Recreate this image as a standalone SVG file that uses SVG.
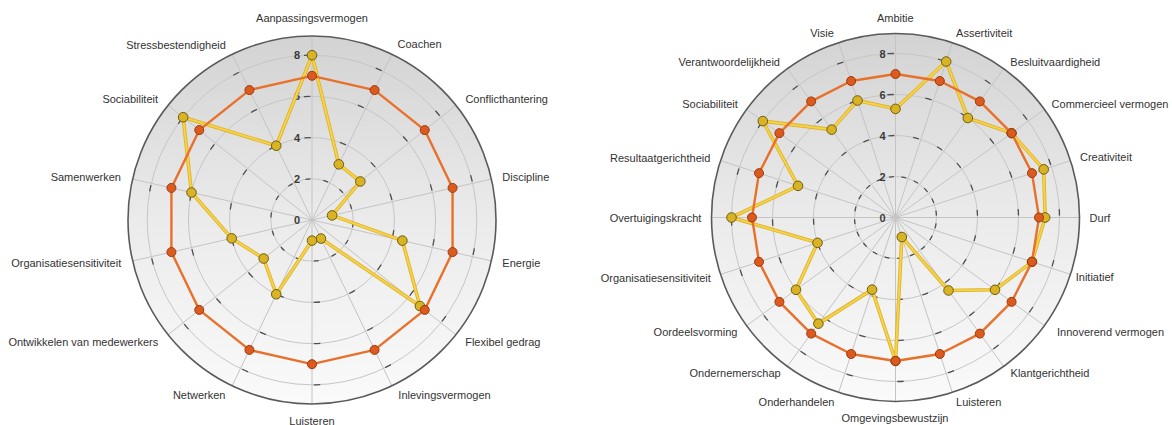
<svg xmlns="http://www.w3.org/2000/svg" width="1172" height="425" viewBox="0 0 1172 425">
<style>
text{font-family:"Liberation Sans",Arial,sans-serif;font-size:11px;fill:#333}
.lbl{text-anchor:middle}
.tick{font-weight:bold;text-anchor:end;fill:#3a3a3a}
.disc{fill:url(#bg)}
.ring{fill:none;stroke:#c6c6c6;stroke-width:1}
.spoke{stroke:#c4c4c4;stroke-width:1;fill:none}
.dash{fill:none;stroke:#505050;stroke-width:1.3}
.outer{fill:none;stroke:#5a5a5a;stroke-width:1.6}
.yl1{fill:none;stroke:#e0b42c;stroke-width:3.6;stroke-linejoin:round}
.yl2{fill:none;stroke:#f6d44a;stroke-width:1.8;stroke-linejoin:round}
.or{fill:none;stroke:#e8702a;stroke-width:2.4;stroke-linejoin:round}
.ym{fill:#d8b424;stroke:#6f5c12;stroke-width:1}
.om{fill:#dd5a1e;stroke:#9a3a10;stroke-width:1}
</style>
<defs>
<linearGradient id="bg" x1="0" y1="0" x2="0" y2="1">
<stop offset="0" stop-color="#d3d3d3"/>
<stop offset="0.5" stop-color="#ebebeb"/>
<stop offset="1" stop-color="#fafafa"/>
</linearGradient>
</defs>
<rect width="1172" height="425" fill="#ffffff"/>

<g id="chart-left">
<g id="left-grid">
<circle class="disc" cx="312" cy="220" r="184"/>
<circle class="ring" cx="312" cy="220" r="41.2"/>
<circle class="ring" cx="312" cy="220" r="82.4"/>
<circle class="ring" cx="312" cy="220" r="123.6"/>
<circle class="ring" cx="312" cy="220" r="164.8"/>
<path class="spoke" d="M312 36L312 404M391.83 54.22L232.17 385.78M455.86 105.28L168.14 334.72M491.39 179.06L132.61 260.94M491.39 260.94L132.61 179.06M455.86 334.72L168.14 105.28M391.83 385.78L232.17 54.22"/>
<circle class="dash" cx="312" cy="220" r="41.2" transform="rotate(-90 312 220)" stroke-dasharray="5 13.49" stroke-dashoffset="7"/>
<circle class="dash" cx="312" cy="220" r="82.4" transform="rotate(-90 312 220)" stroke-dasharray="6.5 30.48" stroke-dashoffset="8.5"/>
<circle class="dash" cx="312" cy="220" r="123.6" transform="rotate(-90 312 220)" stroke-dasharray="6.5 48.97" stroke-dashoffset="8.5"/>
<circle class="dash" cx="312" cy="220" r="164.8" transform="rotate(-90 312 220)" stroke-dasharray="6.5 67.46" stroke-dashoffset="8.5"/>
<circle class="outer" cx="312" cy="220" r="184"/>
<text class="tick" x="300" y="224">0</text>
<text class="tick" x="300" y="182.8">2</text>
<text class="tick" x="300" y="141.6">4</text>
<text class="tick" x="300" y="100.4">6</text>
<text class="tick" x="300" y="59.2">8</text>
</g>
<g id="left-series-yellow">
<polygon class="yl1" points="312,55.2 338.81,164.32 360.32,181.47 332.08,215.42 402.38,240.63 419.91,306.05 320.94,238.56 312,240.6 276.25,294.24 263.68,258.53 231.67,238.34 191.5,192.5 183.15,117.25 276.25,145.76"/>
<polygon class="yl2" points="312,55.2 338.81,164.32 360.32,181.47 332.08,215.42 402.38,240.63 419.91,306.05 320.94,238.56 312,240.6 276.25,294.24 263.68,258.53 231.67,238.34 191.5,192.5 183.15,117.25 276.25,145.76"/>
<circle class="ym" cx="312" cy="55.2" r="4.8"/>
<circle class="ym" cx="338.81" cy="164.32" r="4.8"/>
<circle class="ym" cx="360.32" cy="181.47" r="4.8"/>
<circle class="ym" cx="332.08" cy="215.42" r="4.8"/>
<circle class="ym" cx="402.38" cy="240.63" r="4.8"/>
<circle class="ym" cx="419.91" cy="306.05" r="4.8"/>
<circle class="ym" cx="320.94" cy="238.56" r="4.8"/>
<circle class="ym" cx="312" cy="240.6" r="4.8"/>
<circle class="ym" cx="276.25" cy="294.24" r="4.8"/>
<circle class="ym" cx="263.68" cy="258.53" r="4.8"/>
<circle class="ym" cx="231.67" cy="238.34" r="4.8"/>
<circle class="ym" cx="191.5" cy="192.5" r="4.8"/>
<circle class="ym" cx="183.15" cy="117.25" r="4.8"/>
<circle class="ym" cx="276.25" cy="145.76" r="4.8"/>
</g>
<g id="left-series-orange">
<polygon class="or" points="312,75.8 374.57,90.08 424.74,130.09 452.58,187.91 452.58,252.09 424.74,309.91 374.57,349.92 312,364.2 249.43,349.92 199.26,309.91 171.42,252.09 171.42,187.91 199.26,130.09 249.43,90.08"/>
<circle class="om" cx="312" cy="75.8" r="4.5"/>
<circle class="om" cx="374.57" cy="90.08" r="4.5"/>
<circle class="om" cx="424.74" cy="130.09" r="4.5"/>
<circle class="om" cx="452.58" cy="187.91" r="4.5"/>
<circle class="om" cx="452.58" cy="252.09" r="4.5"/>
<circle class="om" cx="424.74" cy="309.91" r="4.5"/>
<circle class="om" cx="374.57" cy="349.92" r="4.5"/>
<circle class="om" cx="312" cy="364.2" r="4.5"/>
<circle class="om" cx="249.43" cy="349.92" r="4.5"/>
<circle class="om" cx="199.26" cy="309.91" r="4.5"/>
<circle class="om" cx="171.42" cy="252.09" r="4.5"/>
<circle class="om" cx="171.42" cy="187.91" r="4.5"/>
<circle class="om" cx="199.26" cy="130.09" r="4.5"/>
<circle class="om" cx="249.43" cy="90.08" r="4.5"/>
</g>
<g id="left-labels">
<text class="lbl" x="312" y="22.3">Aanpassingsvermogen</text>
<text class="lbl" x="419.5" y="48">Coachen</text>
<text class="lbl" x="506.7" y="103">Conflicthantering</text>
<text class="lbl" x="525.8" y="180.7">Discipline</text>
<text class="lbl" x="521.3" y="267.3">Energie</text>
<text class="lbl" x="502.8" y="345.7">Flexibel gedrag</text>
<text class="lbl" x="444.5" y="399">Inlevingsvermogen</text>
<text class="lbl" x="312" y="424.5">Luisteren</text>
<text class="lbl" x="199.2" y="399">Netwerken</text>
<text class="lbl" x="83.3" y="345.7">Ontwikkelen van medewerkers</text>
<text class="lbl" x="66.2" y="267.3">Organisatiesensitiviteit</text>
<text class="lbl" x="85.8" y="180.7">Samenwerken</text>
<text class="lbl" x="130.2" y="103">Sociabiliteit</text>
<text class="lbl" x="176" y="48.5">Stressbestendigheid</text>
</g>
</g>

<g id="chart-right">
<g id="right-grid">
<circle class="disc" cx="895.5" cy="217.5" r="184"/>
<circle class="ring" cx="895.5" cy="217.5" r="41"/>
<circle class="ring" cx="895.5" cy="217.5" r="82"/>
<circle class="ring" cx="895.5" cy="217.5" r="123"/>
<circle class="ring" cx="895.5" cy="217.5" r="164"/>
<path class="spoke" d="M895.5 33.5L895.5 401.5M952.36 42.51L838.64 392.49M1003.65 68.64L787.35 366.36M1044.36 109.35L746.64 325.65M1070.49 160.64L720.51 274.36M1079.5 217.5L711.5 217.5M1070.49 274.36L720.51 160.64M1044.36 325.65L746.64 109.35M1003.65 366.36L787.35 68.64M952.36 392.49L838.64 42.51"/>
<circle class="dash" cx="895.5" cy="217.5" r="41" transform="rotate(-90 895.5 217.5)" stroke-dasharray="5 7.88" stroke-dashoffset="7"/>
<circle class="dash" cx="895.5" cy="217.5" r="82" transform="rotate(-90 895.5 217.5)" stroke-dasharray="6 19.76" stroke-dashoffset="8"/>
<circle class="dash" cx="895.5" cy="217.5" r="123" transform="rotate(-90 895.5 217.5)" stroke-dasharray="6.5 32.14" stroke-dashoffset="8.5"/>
<circle class="dash" cx="895.5" cy="217.5" r="164" transform="rotate(-90 895.5 217.5)" stroke-dasharray="6.5 45.02" stroke-dashoffset="8.5"/>
<circle class="outer" cx="895.5" cy="217.5" r="184"/>
<text class="tick" x="885.5" y="221.5">0</text>
<text class="tick" x="885.5" y="180.5">2</text>
<text class="tick" x="885.5" y="139.5">4</text>
<text class="tick" x="885.5" y="98.5">6</text>
<text class="tick" x="885.5" y="57.5">8</text>
</g>
<g id="right-series-yellow">
<polygon class="yl1" points="895.5,108.85 946.18,61.53 967.8,117.99 1011.59,133.15 1043.68,169.35 1045.15,217.5 1031.98,261.84 995.01,289.8 948.52,290.47 901.83,237 895.5,361 872.06,289.64 818.38,323.64 795.99,289.8 817.51,242.84 731.5,217.5 798.02,185.83 762.82,121.1 831.64,129.6 857.49,100.52"/>
<polygon class="yl2" points="895.5,108.85 946.18,61.53 967.8,117.99 1011.59,133.15 1043.68,169.35 1045.15,217.5 1031.98,261.84 995.01,289.8 948.52,290.47 901.83,237 895.5,361 872.06,289.64 818.38,323.64 795.99,289.8 817.51,242.84 731.5,217.5 798.02,185.83 762.82,121.1 831.64,129.6 857.49,100.52"/>
<circle class="ym" cx="895.5" cy="108.85" r="4.8"/>
<circle class="ym" cx="946.18" cy="61.53" r="4.8"/>
<circle class="ym" cx="967.8" cy="117.99" r="4.8"/>
<circle class="ym" cx="1011.59" cy="133.15" r="4.8"/>
<circle class="ym" cx="1043.68" cy="169.35" r="4.8"/>
<circle class="ym" cx="1045.15" cy="217.5" r="4.8"/>
<circle class="ym" cx="1031.98" cy="261.84" r="4.8"/>
<circle class="ym" cx="995.01" cy="289.8" r="4.8"/>
<circle class="ym" cx="948.52" cy="290.47" r="4.8"/>
<circle class="ym" cx="901.83" cy="237" r="4.8"/>
<circle class="ym" cx="895.5" cy="361" r="4.8"/>
<circle class="ym" cx="872.06" cy="289.64" r="4.8"/>
<circle class="ym" cx="818.38" cy="323.64" r="4.8"/>
<circle class="ym" cx="795.99" cy="289.8" r="4.8"/>
<circle class="ym" cx="817.51" cy="242.84" r="4.8"/>
<circle class="ym" cx="731.5" cy="217.5" r="4.8"/>
<circle class="ym" cx="798.02" cy="185.83" r="4.8"/>
<circle class="ym" cx="762.82" cy="121.1" r="4.8"/>
<circle class="ym" cx="831.64" cy="129.6" r="4.8"/>
<circle class="ym" cx="857.49" cy="100.52" r="4.8"/>
</g>
<g id="right-series-orange">
<polygon class="or" points="895.5,74 939.84,81.02 979.85,101.41 1011.59,133.15 1031.98,173.16 1039,217.5 1031.98,261.84 1011.59,301.85 979.85,333.59 939.84,353.98 895.5,361 851.16,353.98 811.15,333.59 779.41,301.85 759.02,261.84 752,217.5 759.02,173.16 779.41,133.15 811.15,101.41 851.16,81.02"/>
<circle class="om" cx="895.5" cy="74" r="4.5"/>
<circle class="om" cx="939.84" cy="81.02" r="4.5"/>
<circle class="om" cx="979.85" cy="101.41" r="4.5"/>
<circle class="om" cx="1011.59" cy="133.15" r="4.5"/>
<circle class="om" cx="1031.98" cy="173.16" r="4.5"/>
<circle class="om" cx="1039" cy="217.5" r="4.5"/>
<circle class="om" cx="1031.98" cy="261.84" r="4.5"/>
<circle class="om" cx="1011.59" cy="301.85" r="4.5"/>
<circle class="om" cx="979.85" cy="333.59" r="4.5"/>
<circle class="om" cx="939.84" cy="353.98" r="4.5"/>
<circle class="om" cx="895.5" cy="361" r="4.5"/>
<circle class="om" cx="851.16" cy="353.98" r="4.5"/>
<circle class="om" cx="811.15" cy="333.59" r="4.5"/>
<circle class="om" cx="779.41" cy="301.85" r="4.5"/>
<circle class="om" cx="759.02" cy="261.84" r="4.5"/>
<circle class="om" cx="752" cy="217.5" r="4.5"/>
<circle class="om" cx="759.02" cy="173.16" r="4.5"/>
<circle class="om" cx="779.41" cy="133.15" r="4.5"/>
<circle class="om" cx="811.15" cy="101.41" r="4.5"/>
<circle class="om" cx="851.16" cy="81.02" r="4.5"/>
</g>
<g id="right-labels">
<text class="lbl" x="895.3" y="21.7">Ambitie</text>
<text class="lbl" x="984.2" y="37.3">Assertiviteit</text>
<text class="lbl" x="1055.3" y="65.7">Besluitvaardigheid</text>
<text class="lbl" x="1110" y="108">Commercieel vermogen</text>
<text class="lbl" x="1106" y="161.3">Creativiteit</text>
<text class="lbl" x="1100" y="221.7">Durf</text>
<text class="lbl" x="1094.7" y="281.3">Initiatief</text>
<text class="lbl" x="1110.5" y="336.3">Innoverend vermogen</text>
<text class="lbl" x="1050" y="377.3">Klantgerichtheid</text>
<text class="lbl" x="978.7" y="405.7">Luisteren</text>
<text class="lbl" x="895" y="422.3">Omgevingsbewustzijn</text>
<text class="lbl" x="796.5" y="405.7">Onderhandelen</text>
<text class="lbl" x="735.1" y="377.3">Ondernemerschap</text>
<text class="lbl" x="695.5" y="336.3">Oordeelsvorming</text>
<text class="lbl" x="655.8" y="282.3">Organisatiesensitiviteit</text>
<text class="lbl" x="655.5" y="221.7">Overtuigingskracht</text>
<text class="lbl" x="660.2" y="161.7">Resultaatgerichtheid</text>
<text class="lbl" x="710" y="108">Sociabiliteit</text>
<text class="lbl" x="729.2" y="65.7">Verantwoordelijkheid</text>
<text class="lbl" x="822" y="37.3">Visie</text>
</g>
</g>
</svg>
